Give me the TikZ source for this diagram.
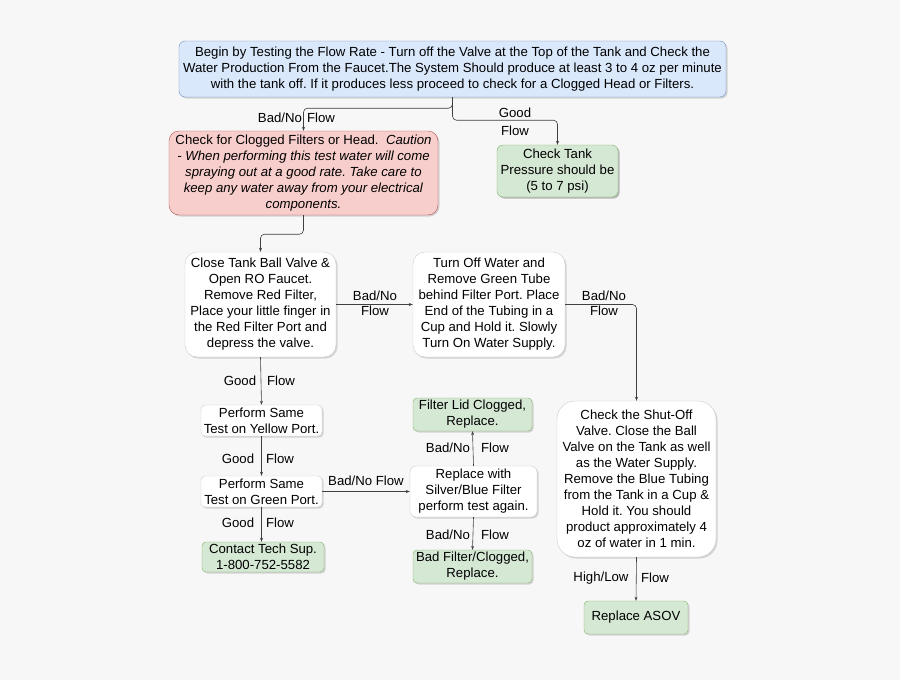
\documentclass[tikz,border=0pt]{standalone}
\usepackage{fontspec}
\setmainfont{Liberation Sans}
\frenchspacing
\usetikzlibrary{shadows,arrows.meta}
\definecolor{bg}{HTML}{F7F7F7}
\definecolor{bluef}{HTML}{DAE8FC}\definecolor{blued}{HTML}{6C8EBF}
\definecolor{redf}{HTML}{F8CECC}\definecolor{redd}{HTML}{B85450}
\definecolor{grnf}{HTML}{D5E8D4}\definecolor{grnd}{HTML}{82B366}
\begin{document}
\begin{tikzpicture}[x=1pt,y=-1pt,
  box/.style={draw, rounded corners=#1, align=center, inner sep=0pt,
    font=\fontsize{13.2}{16}\selectfont, drop shadow={shadow xshift=1.5pt,shadow yshift=-1.5pt,opacity=0.3}},
  box/.default=6pt,
  wbox/.style={box=#1, fill=white, draw=gray!40},
  wbox/.default=12pt,
  gbox/.style={box=4pt, fill=grnf, draw=grnd},
  lab/.style={font=\fontsize{13.2}{15}\selectfont, inner sep=1pt},
  arr/.style={draw=black!75, line width=0.6pt, -{Stealth[length=4pt,width=3pt]}, rounded corners=4pt}]
\fill[bg] (0,0) rectangle (900,680);
\useasboundingbox (0,0) rectangle (900,680);
\node[box, fill=bluef, draw=blued, minimum width=547, minimum height=56] (top) at (452.5,69)
 {Begin by Testing the Flow Rate - Turn off the Valve at the Top of the Tank and Check the\\Water Production From the Faucet.The System Should produce at least 3 to 4 oz per minute\\with the tank off. If it produces less proceed to check for a Clogged Head or Filters.};
\node[box=10pt, fill=redf, draw=redd, minimum width=269, minimum height=84] (red) at (303.5,173)
 {Check for Clogged Filters or Head.\ \ \textit{Caution}\\\textit{- When performing this test water will come}\\\textit{spraying out at a good rate. Take care to}\\\textit{keep any water away from your electrical}\\\textit{components.}};
\node[gbox, box=6pt, minimum width=121, minimum height=52] (tank) at (557.5,171)
 {Check Tank\\Pressure should be\\(5 to 7 psi)};
\node[wbox, minimum width=151, minimum height=105] (close) at (260.5,304.5)
 {Close Tank Ball Valve \&\\Open RO Faucet.\\Remove Red Filter,\\Place your little finger in\\the Red Filter Port and\\depress the valve.};
\node[wbox, minimum width=152, minimum height=105] (turn) at (489,304.5)
 {Turn Off Water and\\Remove Green Tube\\behind Filter Port. Place\\End of the Tubing in a\\Cup and Hold it. Slowly\\Turn On Water Supply.};
\node[wbox=18pt, minimum width=159, minimum height=156] (shut) at (636.5,479)
 {Check the Shut-Off\\Valve. Close the Ball\\Valve on the Tank as well\\as the Water Supply.\\Remove the Blue Tubing\\from the Tank in a Cup \&\\Hold it. You should\\product approximately 4\\oz of water in 1 min.};
\node[wbox=4pt, minimum width=121, minimum height=31] (yel) at (261.5,420.5) {Perform Same\\Test on Yellow Port.};
\node[wbox=4pt, minimum width=121, minimum height=31] (gp) at (261.5,491.5) {Perform Same\\Test on Green Port.};
\node[gbox, minimum width=122, minimum height=30] (tech) at (263,557) {Contact Tech Sup.\\1-800-752-5582};
\node[gbox, minimum width=119, minimum height=33] (lid) at (472.5,414.5) {Filter Lid Clogged,\\Replace.};
\node[wbox=6pt, minimum width=127, minimum height=51] (rep) at (473.5,491.5) {Replace with\\Silver/Blue Filter\\perform test again.};
\node[gbox, minimum width=119, minimum height=33] (badf) at (472.5,566.5) {Bad Filter/Clogged,\\Replace.};
\node[gbox, minimum width=104, minimum height=33] (asov) at (636,617.5) {Replace ASOV};
% connectors
\draw[arr] (top.south) -- ++(0,11) -| (red.north);
\draw[arr] (top.south) -- ++(0,23) -| (tank.north);
\draw[arr] (red.south) -- ++(0,19) -| (close.north);
\draw[arr] (close.east) -- (turn.west);
\draw[arr] (turn.east) -| (shut.north);
\draw[arr] (close.south) -- (yel.north);
\draw[arr] (yel.south) -- (gp.north);
\draw[arr] (gp.south) -- (gp.south|-tech.north);
\draw[arr] (gp.east) -- (rep.west);
\draw[arr] (rep.north) -- (lid.north|-lid.south);
\draw[arr] (rep.south) -- (badf.north);
\draw[arr] (shut.south) -- (asov.north);
% labels
\node[lab] (l1) at (280,118) {Bad/No}; \node[lab] (l2) at (321,118) {Flow};
\node[lab] (l3) at (515,113) {Good}; \node[lab] (l4) at (515,131) {Flow};
\node[lab] (l5) at (375,296) {Bad/No}; \node[lab] (l6) at (375,311) {Flow};
\node[lab] (l7) at (604,296) {Bad/No}; \node[lab] (l8) at (604,311) {Flow};
\node[lab] (l9) at (240,381) {Good}; \node[lab] (l10) at (281,381) {Flow};
\node[lab] (l11) at (238,459) {Good}; \node[lab] (l12) at (280,459) {Flow};
\node[lab] (l13) at (238,523) {Good}; \node[lab] (l14) at (280,523) {Flow};
\node[lab] (l15) at (366,481) {Bad/No Flow};
\node[lab] (l16) at (448,448) {Bad/No}; \node[lab] (l17) at (495,448) {Flow};
\node[lab] (l18) at (448,535) {Bad/No}; \node[lab] (l19) at (495,535) {Flow};
\node[lab] (l20) at (601,578) {High/Low}; \node[lab] (l21) at (655,578) {Flow};
\end{tikzpicture}
\end{document}
